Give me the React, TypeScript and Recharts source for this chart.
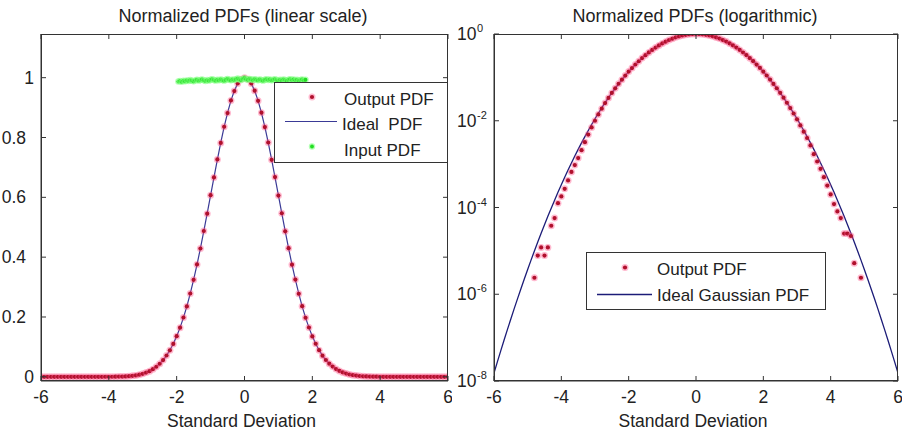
import React from 'react';
import { ComposedChart, Line, Scatter, XAxis, YAxis } from 'recharts';

const FONT = '"Liberation Sans", Arial, Helvetica, sans-serif';

// x grid (standard deviations)
const xGrid = [
  -6.0, -5.9, -5.8, -5.7, -5.6, -5.5, -5.4, -5.3, -5.2, -5.1,
  -5.0, -4.9, -4.8, -4.7, -4.6, -4.5, -4.4, -4.3, -4.2, -4.1,
  -4.0, -3.9, -3.8, -3.7, -3.6, -3.5, -3.4, -3.3, -3.2, -3.1,
  -3.0, -2.9, -2.8, -2.7, -2.6, -2.5, -2.4, -2.3, -2.2, -2.1,
  -2.0, -1.9, -1.8, -1.7, -1.6, -1.5, -1.4, -1.3, -1.2, -1.1,
  -1.0, -0.9, -0.8, -0.7, -0.6, -0.5, -0.4, -0.3, -0.2, -0.1,
  0.0,
  0.1, 0.2, 0.3, 0.4, 0.5, 0.6, 0.7, 0.8, 0.9, 1.0,
  1.1, 1.2, 1.3, 1.4, 1.5, 1.6, 1.7, 1.8, 1.9, 2.0,
  2.1, 2.2, 2.3, 2.4, 2.5, 2.6, 2.7, 2.8, 2.9, 3.0,
  3.1, 3.2, 3.3, 3.4, 3.5, 3.6, 3.7, 3.8, 3.9, 4.0,
  4.1, 4.2, 4.3, 4.4, 4.5, 4.6, 4.7, 4.8, 4.9, 5.0,
  5.1, 5.2, 5.3, 5.4, 5.5, 5.6, 5.7, 5.8, 5.9, 6.0,
];

// Ideal (Gaussian) PDF, normalized to peak 1
const idealPdf = [
  1.523e-8, 2.760e-8, 4.954e-8, 8.802e-8, 1.549e-7, 2.698e-7, 4.653e-7, 7.946e-7, 1.343e-6, 2.249e-6,
  3.727e-6, 6.118e-6, 9.934e-6, 1.597e-5, 2.541e-5, 4.005e-5, 6.248e-5, 9.652e-5, 1.477e-4, 2.237e-4,
  3.355e-4, 4.982e-4, 7.320e-4, 1.065e-3, 1.534e-3, 2.187e-3, 3.089e-3, 4.318e-3, 5.976e-3, 8.189e-3,
  0.01111, 0.01492, 0.01984, 0.02612, 0.03405, 0.04394, 0.05613, 0.07100, 0.08892, 0.1103,
  0.1353, 0.1645, 0.1979, 0.2357, 0.2780, 0.3247, 0.3753, 0.4296, 0.4868, 0.5461,
  0.6065, 0.6670, 0.7261, 0.7827, 0.8353, 0.8825, 0.9231, 0.9560, 0.9802, 0.9950,
  1.0,
  0.9950, 0.9802, 0.9560, 0.9231, 0.8825, 0.8353, 0.7827, 0.7261, 0.6670, 0.6065,
  0.5461, 0.4868, 0.4296, 0.3753, 0.3247, 0.2780, 0.2357, 0.1979, 0.1645, 0.1353,
  0.1103, 0.08892, 0.07100, 0.05613, 0.04394, 0.03405, 0.02612, 0.01984, 0.01492, 0.01111,
  8.189e-3, 5.976e-3, 4.318e-3, 3.089e-3, 2.187e-3, 1.534e-3, 1.065e-3, 7.320e-4, 4.982e-4, 3.355e-4,
  2.237e-4, 1.477e-4, 9.652e-5, 6.248e-5, 4.005e-5, 2.541e-5, 1.597e-5, 9.934e-6, 6.118e-6, 3.727e-6,
  2.249e-6, 1.343e-6, 7.946e-7, 4.653e-7, 2.698e-7, 1.549e-7, 8.802e-8, 4.954e-8, 2.760e-8, 1.523e-8,
];

// Measured output PDF (0 = no samples in bin)
const outputPdf = [
  0, 0, 0, 0, 0, 0, 0, 0, 0, 0,
  0, 0, 2.4e-6, 7.8e-6, 1.2e-5, 7.8e-6, 1.2e-5, 3.8e-5, 5.7e-5, 1.26e-4,
  1.8e-4, 2.7e-4, 4.2e-4, 6.6e-4, 9.5e-4, 1.38e-3, 2.1e-3, 3.2e-3, 4.8e-3, 7.0e-3,
  0.0100, 0.0140, 0.0190, 0.0255, 0.0336, 0.0437, 0.0560, 0.0712, 0.0887, 0.1100,
  0.1357, 0.1641, 0.1983, 0.2352, 0.2785, 0.3241, 0.3758, 0.4290, 0.4874, 0.5455,
  0.6071, 0.6664, 0.7268, 0.7820, 0.8360, 0.8818, 0.9238, 0.9553, 0.9808, 0.9944,
  1.0,
  0.9947, 0.9805, 0.9566, 0.9225, 0.8831, 0.8347, 0.7833, 0.7255, 0.6676, 0.6059,
  0.5467, 0.4862, 0.4301, 0.3748, 0.3252, 0.2776, 0.2361, 0.1975, 0.1649, 0.1350,
  0.1106, 0.0889, 0.0708, 0.0562, 0.0440, 0.0341, 0.0260, 0.0196, 0.0147, 0.0108,
  0.0078, 0.0056, 0.0040, 0.0027, 0.0017, 0.00115, 0.00078, 0.00050, 0.00032, 0.00020,
  0.00012, 0.000081, 0.000057, 0.000025, 0.000025, 0.000022, 0.0000052, 0, 0.0000024, 0,
  0, 0, 0, 0, 0, 0, 0, 0, 0, 0,
];

// Input PDF (uniform)
const inputX = [
  -1.95, -1.90, -1.85, -1.80, -1.75, -1.70, -1.65, -1.60, -1.55, -1.50,
  -1.45, -1.40, -1.35, -1.30, -1.25, -1.20, -1.15, -1.10, -1.05, -1.00,
  -0.95, -0.90, -0.85, -0.80, -0.75, -0.70, -0.65, -0.60, -0.55, -0.50,
  -0.45, -0.40, -0.35, -0.30, -0.25, -0.20, -0.15, -0.10, -0.05, 0.00,
  0.05, 0.10, 0.15, 0.20, 0.25, 0.30, 0.35, 0.40, 0.45, 0.50,
  0.55, 0.60, 0.65, 0.70, 0.75, 0.80, 0.85, 0.90, 0.95, 1.00,
  1.05, 1.10, 1.15, 1.20, 1.25, 1.30, 1.35, 1.40, 1.45, 1.50,
  1.55, 1.60, 1.65, 1.70, 1.75, 1.80,
];
const inputPdf = [
  0.987, 0.989, 0.986, 0.990, 0.988, 0.991, 0.989, 0.992, 0.990, 0.988,
  0.991, 0.993, 0.990, 0.992, 0.994, 0.991, 0.989, 0.992, 0.990, 0.993,
  0.995, 0.992, 0.990, 0.993, 0.991, 0.994, 0.992, 0.990, 0.993, 0.996,
  0.993, 0.991, 0.994, 0.992, 0.995, 0.997, 0.994, 0.992, 0.996, 0.998,
  0.995, 0.993, 0.996, 0.994, 0.992, 0.995, 0.993, 0.991, 0.994, 0.992,
  0.990, 0.993, 0.995, 0.992, 0.994, 0.991, 0.993, 0.995, 0.992, 0.990,
  0.993, 0.991, 0.994, 0.992, 0.990, 0.993, 0.995, 0.992, 0.994, 0.991,
  0.993, 0.990, 0.992, 0.994, 0.991, 0.993,
];

const xTicks = [-6, -4, -2, 0, 2, 4, 6];
const linTicks = [0, 0.2, 0.4, 0.6, 0.8, 1];
const logTicks = [1e-8, 1e-6, 1e-4, 1e-2, 1];

const X_MIN = -6;
const X_MAX = 6;
const LIN_MIN = -0.014;
const LIN_MAX = 1.146;
const LOG_MIN = 1e-8;
const LOG_MAX = 1;

const idealRows = xGrid.map((x, i) => ({ x, y: idealPdf[i] }));
const outputRows = xGrid.map((x, i) => ({ x, y: outputPdf[i] }));
const outputLogRows = outputRows.filter((r) => r.y > 0);
const inputRows = inputX.map((x, i) => ({ x, y: inputPdf[i] }));

// chart geometry (layout only)
const CH_W = 452;
const CH_H = 432;
const M_TOP = 34;
const M_RIGHT = 4;
const XAX_H = 51;
const YAX_W_LIN = 41;
const YAX_W_LOG = 44;
const RIGHT_LEFT = 450;

const TXT = '#222';
const AX = '#333';

const bad = (v: any) => v == null || Number.isNaN(v);

const RedDot = (p: any) => {
  if (bad(p.cx) || bad(p.cy)) return <g />;
  return (
    <g>
      <circle cx={p.cx} cy={p.cy} r={3.5} fill="#ff4f86" fillOpacity={0.4} />
      <circle cx={p.cx} cy={p.cy} r={2.1} fill="#b0102c" />
    </g>
  );
};

const GreenDot = (p: any) => {
  if (bad(p.cx) || bad(p.cy)) return <g />;
  return (
    <g>
      <circle cx={p.cx} cy={p.cy} r={3.2} fill="#80ff80" fillOpacity={0.6} />
      <circle cx={p.cx} cy={p.cy} r={1.9} fill="#22dd22" />
    </g>
  );
};

const LinYTick = (p: any) => {
  const v = p.payload.value;
  const isInt = Number.isInteger(v);
  return (
    <text x={isInt ? p.x : p.x - 8} y={p.y} dy="0.35em" textAnchor="end" fontSize={17.5} fontFamily={FONT} fill={TXT}>
      {String(v)}
    </text>
  );
};

const LogYTick = (p: any) => {
  const v = p.payload.value;
  const e = Math.round(Math.log10(v));
  return (
    <g>
      <text x={p.x - 7.5} y={p.y} dy="0.35em" textAnchor="end" fontSize={17.5} fontFamily={FONT} fill={TXT}>10</text>
      <text x={p.x - 7} y={p.y - 2} textAnchor="start" fontSize={11} fontFamily={FONT} fill={TXT}>{String(e)}</text>
    </g>
  );
};

const xTickStyle = { fontSize: 17.5, fill: TXT, fontFamily: FONT };

// MATLAB-style axes box with inward ticks on all four sides
function AxesBox(props: { x0: number; x1: number; y0: number; y1: number; yFrac: number[] }) {
  const { x0, x1, y0, y1, yFrac } = props;
  const L = 5;
  const xs = xTicks.map((t) => x0 + ((t - X_MIN) / (X_MAX - X_MIN)) * (x1 - x0));
  const ys = yFrac.map((f) => y1 - f * (y1 - y0));
  return (
    <g stroke={AX} strokeWidth={1} fill="none">
      <rect x={x0 + 0.5} y={y0 + 0.5} width={x1 - x0 - 1} height={y1 - y0 - 1} />
      {xs.map((x, i) => (
        <g key={'x' + i}>
          <line x1={x} y1={y1} x2={x} y2={y1 - L} />
          <line x1={x} y1={y0} x2={x} y2={y0 + L} />
        </g>
      ))}
      {ys.map((y, i) => (
        <g key={'y' + i}>
          <line x1={x0} y1={y} x2={x0 + L} y2={y} />
          <line x1={x1} y1={y} x2={x1 - L} y2={y} />
        </g>
      ))}
    </g>
  );
}

const linFrac = linTicks.map((t) => (t - LIN_MIN) / (LIN_MAX - LIN_MIN));
const logFrac = logTicks.map((t) => (Math.log10(t) - Math.log10(LOG_MIN)) / (Math.log10(LOG_MAX) - Math.log10(LOG_MIN)));

export default function App() {
  return (
    <div style={{ position: 'absolute', left: 0, top: 0, width: 902, height: 432, background: '#fff', overflow: 'hidden' }}>
      <div style={{ position: 'absolute', left: 0, top: 0 }}>
        <ComposedChart width={CH_W} height={CH_H} margin={{ top: M_TOP, right: M_RIGHT, bottom: 0, left: 0 }}>
          <XAxis dataKey="x" type="number" domain={[X_MIN, X_MAX]} ticks={xTicks} interval={0} allowDataOverflow
            tickSize={-5} tickLine={false} tickMargin={15} height={XAX_H} stroke={AX} tick={xTickStyle} />
          <YAxis type="number" domain={[LIN_MIN, LIN_MAX]} ticks={linTicks} interval={0} allowDataOverflow
            width={YAX_W_LIN} tickSize={-5} tickLine={false} tickMargin={12} tick={<LinYTick />} stroke={AX} />
          <Scatter data={outputRows} dataKey="y" shape={RedDot} isAnimationActive={false} />
          <Line data={idealRows} dataKey="y" type="linear" stroke="#3a3a96" strokeWidth={1.2} dot={false}
            isAnimationActive={false} />
          <Scatter data={inputRows} dataKey="y" shape={GreenDot} isAnimationActive={false} />
        </ComposedChart>
      </div>
      <div style={{ position: 'absolute', left: RIGHT_LEFT, top: 0 }}>
        <ComposedChart width={CH_W} height={CH_H} margin={{ top: M_TOP, right: M_RIGHT, bottom: 0, left: 0 }}>
          <XAxis dataKey="x" type="number" domain={[X_MIN, X_MAX]} ticks={xTicks} interval={0} allowDataOverflow
            tickSize={-5} tickLine={false} tickMargin={15} height={XAX_H} stroke={AX} tick={xTickStyle} />
          <YAxis type="number" scale="log" domain={[LOG_MIN, LOG_MAX]} ticks={logTicks} interval={0} allowDataOverflow
            width={YAX_W_LOG} tickSize={-5} tickLine={false} tickMargin={15} tick={<LogYTick />} stroke={AX} />
          <Scatter data={outputLogRows} dataKey="y" shape={RedDot} isAnimationActive={false} />
          <Line data={idealRows} dataKey="y" type="linear" stroke="#1c1c78" strokeWidth={1.3} dot={false}
            isAnimationActive={false} />
        </ComposedChart>
      </div>
      <svg width={902} height={432} style={{ position: 'absolute', left: 0, top: 0, pointerEvents: 'none' }}
        fontFamily={FONT}>
        <AxesBox x0={YAX_W_LIN} x1={CH_W - M_RIGHT} y0={M_TOP} y1={CH_H - XAX_H} yFrac={linFrac} />
        <AxesBox x0={RIGHT_LEFT + YAX_W_LOG} x1={RIGHT_LEFT + CH_W - M_RIGHT} y0={M_TOP} y1={CH_H - XAX_H}
          yFrac={logFrac} />

        <text x={243} y={21.5} textAnchor="middle" fontSize={18} fill={TXT}>Normalized PDFs (linear scale)</text>
        <text x={695} y={21.5} textAnchor="middle" fontSize={18} fill={TXT}>Normalized PDFs (logarithmic)</text>
        <text x={241.5} y={426.5} textAnchor="middle" fontSize={17.5} fill={TXT}>Standard Deviation</text>
        <text x={693} y={426.5} textAnchor="middle" fontSize={17.5} fill={TXT}>Standard Deviation</text>

        {/* left legend */}
        <rect x={274.5} y={82.5} width={173} height={80} fill="#fff" stroke={AX} strokeWidth={1} />
        <circle cx={312} cy={97} r={3.5} fill="#ff4f86" fillOpacity={0.4} />
        <circle cx={312} cy={97} r={2.1} fill="#b0102c" />
        <text x={344} y={104.5} fontSize={17} fill={TXT}>Output PDF</text>
        <line x1={285} y1={121.5} x2={337} y2={121.5} stroke="#3a3a96" strokeWidth={1.2} />
        <text x={342} y={130} fontSize={17} fill={TXT} style={{ whiteSpace: 'pre' }}>{'Ideal  PDF'}</text>
        <circle cx={312} cy={146.5} r={3.2} fill="#80ff80" fillOpacity={0.6} />
        <circle cx={312} cy={146.5} r={1.9} fill="#22dd22" />
        <text x={344} y={155.5} fontSize={17} fill={TXT}>Input PDF</text>

        {/* right legend */}
        <rect x={586.5} y={252.5} width={239} height={57} fill="#fff" stroke={AX} strokeWidth={1} />
        <circle cx={625} cy={267.5} r={3.5} fill="#ff4f86" fillOpacity={0.4} />
        <circle cx={625} cy={267.5} r={2.1} fill="#b0102c" />
        <text x={657} y={274.5} fontSize={17} fill={TXT}>Output PDF</text>
        <line x1={597} y1={294.5} x2={652} y2={294.5} stroke="#1c1c78" strokeWidth={1.3} />
        <text x={657} y={300.5} fontSize={17} fill={TXT}>Ideal Gaussian PDF</text>
      </svg>
    </div>
  );
}
